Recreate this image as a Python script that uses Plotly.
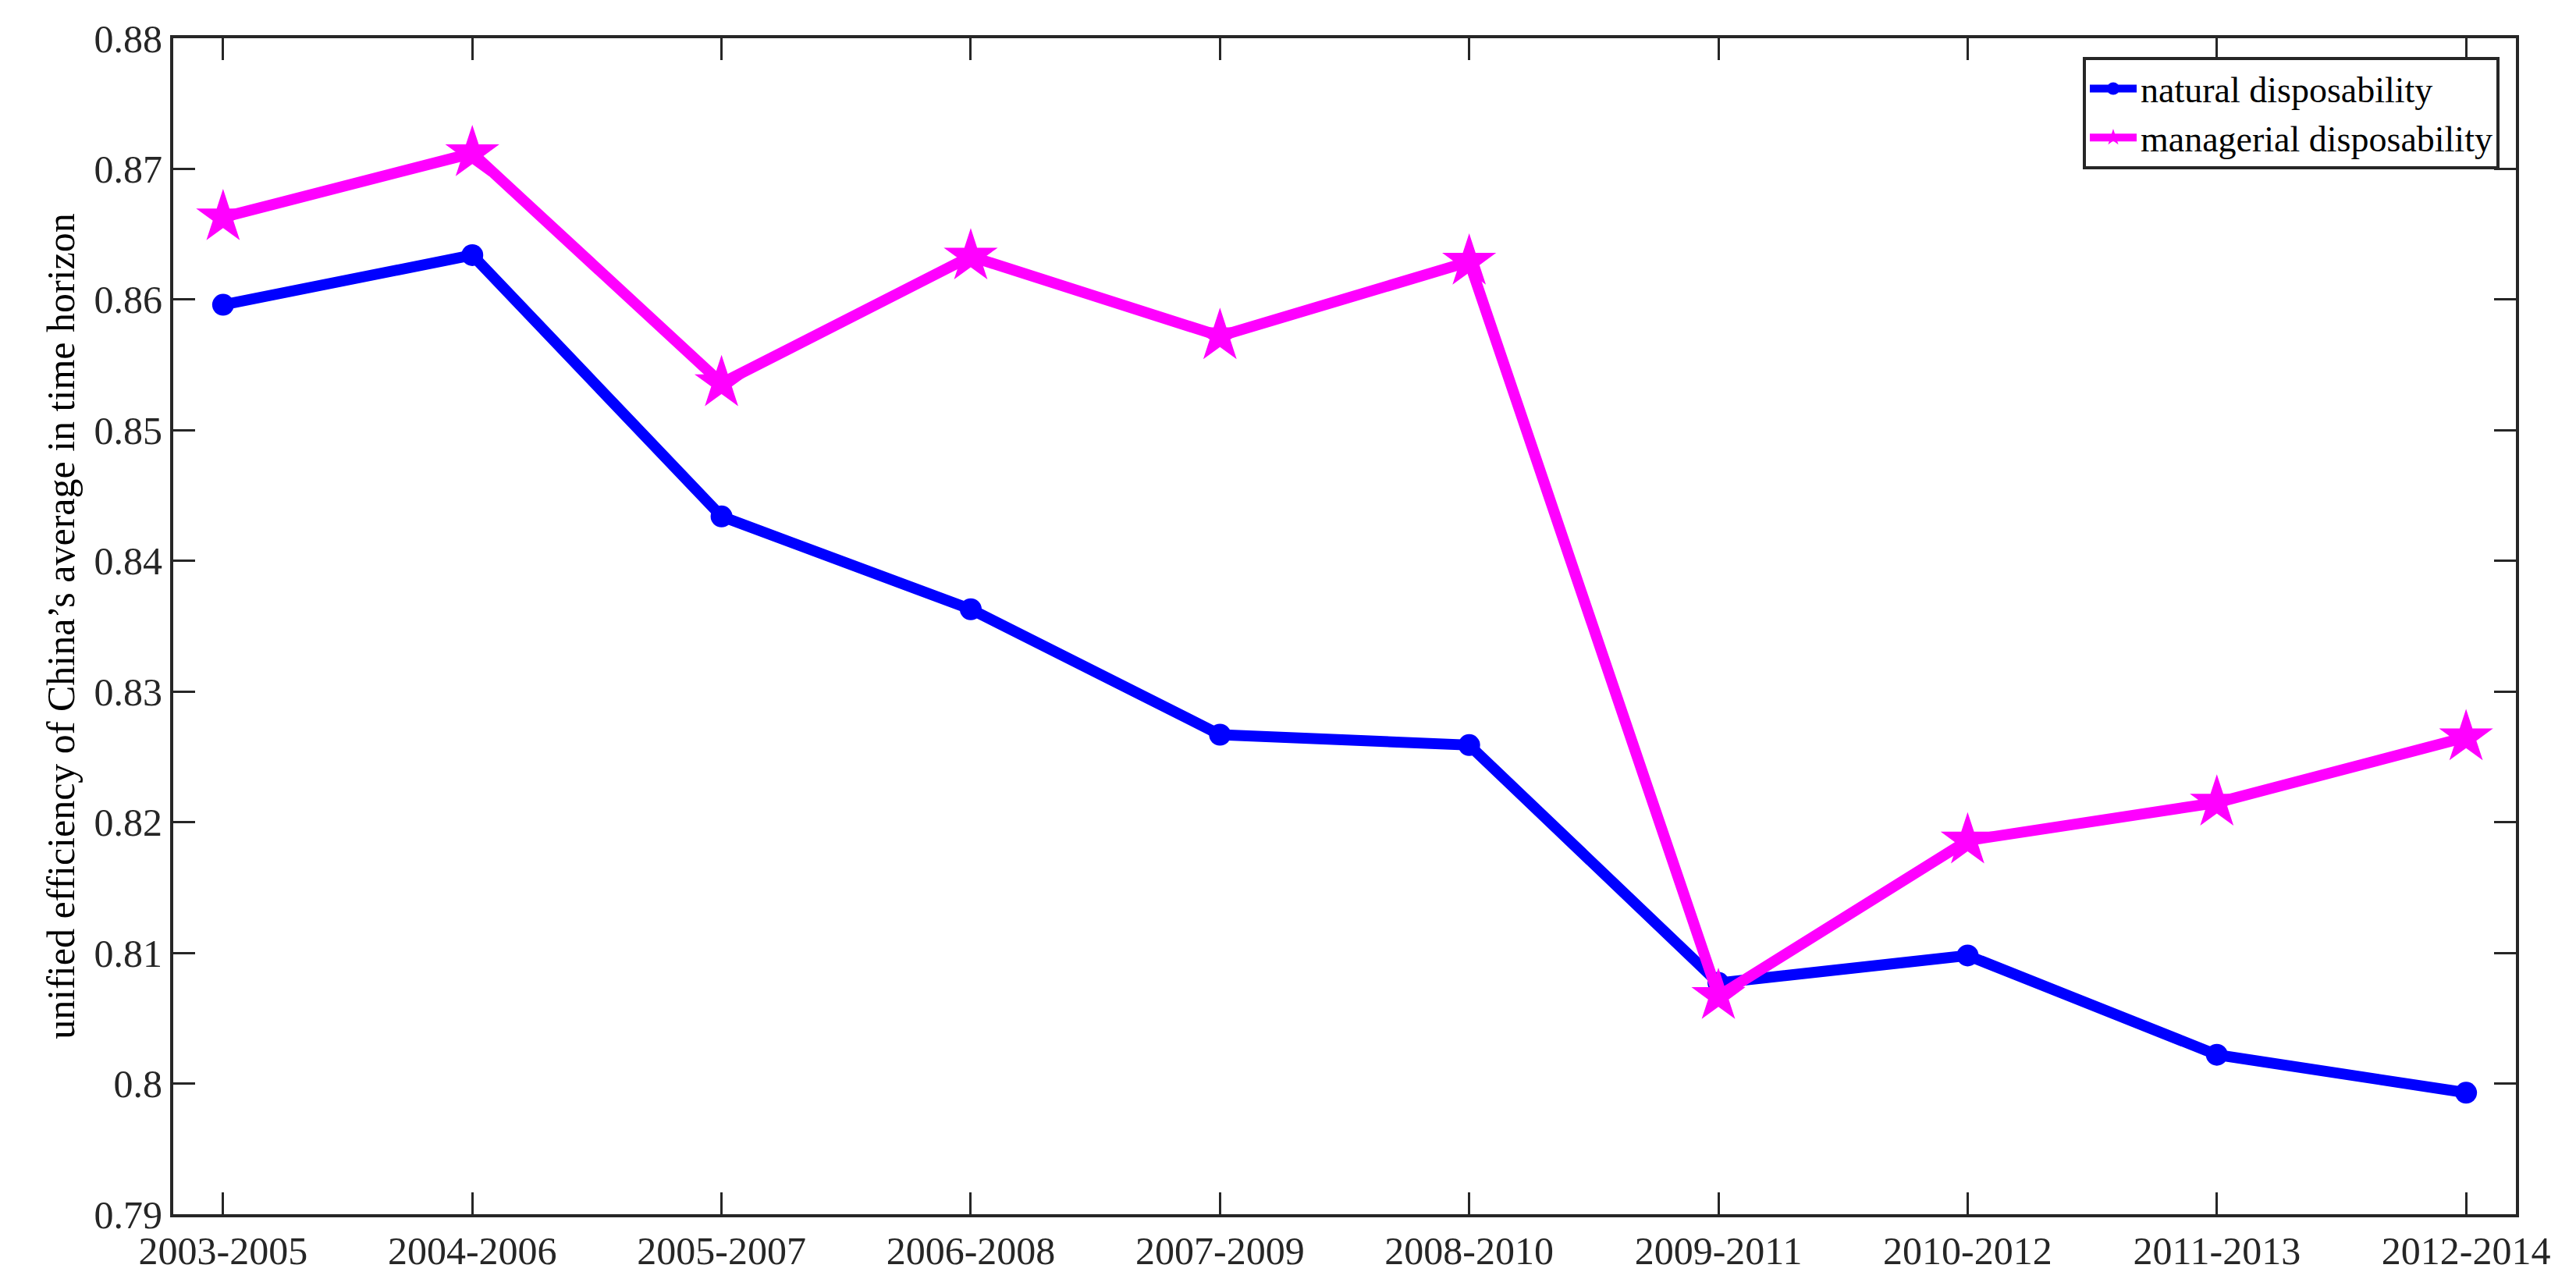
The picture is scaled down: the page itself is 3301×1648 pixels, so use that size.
import plotly.graph_objects as go

categories = ["2003-2005","2004-2006","2005-2007","2006-2008","2007-2009","2008-2010","2009-2011","2010-2012","2011-2013","2012-2014"]
natural = [0.8596,0.8634,0.8434,0.8363,0.8267,0.8259,0.8077,0.8098,0.8022,0.7993]
managerial = [0.8663,0.8712,0.8536,0.8633,0.8572,0.8629,0.8067,0.8186,0.8215,0.8265]
yticks = [0.79,0.80,0.81,0.82,0.83,0.84,0.85,0.86,0.87,0.88]
yticklabels = ["0.79","0.8","0.81","0.82","0.83","0.84","0.85","0.86","0.87","0.88"]

x = list(range(len(categories)))
fig = go.Figure()
fig.add_trace(go.Scatter(x=x, y=natural, mode="lines+markers", name="natural disposability",
    line=dict(color="#0000ff", width=14), marker=dict(symbol="circle", size=28, color="#0000ff")))
fig.add_trace(go.Scatter(x=x, y=managerial, mode="lines+markers", name="managerial disposability",
    line=dict(color="#ff00ff", width=14), marker=dict(symbol="star", size=52, color="#ff00ff", line=dict(width=0))))

ax = dict(showline=True, linecolor="#262626", linewidth=4, mirror="ticks", ticks="inside",
          ticklen=28, tickwidth=3, tickcolor="#262626", showgrid=False, zeroline=False)
fig.update_layout(
    width=3301, height=1648, paper_bgcolor="white", plot_bgcolor="white",
    margin=dict(l=214, r=85, t=41, b=100),
    font=dict(family="Liberation Serif", size=50, color="#262626"),
    xaxis=dict(range=[-0.2, 9.2], tickmode="array", tickvals=x, ticktext=categories, **ax),
    yaxis=dict(range=[0.79, 0.88], tickmode="array", tickvals=yticks, ticktext=yticklabels,
               title=dict(text="unified efficiency of China’s average in time horizon", font=dict(size=50, color="black"), standoff=10), **ax),
    legend=dict(x=0.993, y=0.984, xanchor="right", yanchor="top", bordercolor="#262626", borderwidth=4,
                bgcolor="white", font=dict(size=46, color="black"), tracegroupgap=0, itemwidth=60),
    showlegend=True,
)
fig.write_html("out.html")
